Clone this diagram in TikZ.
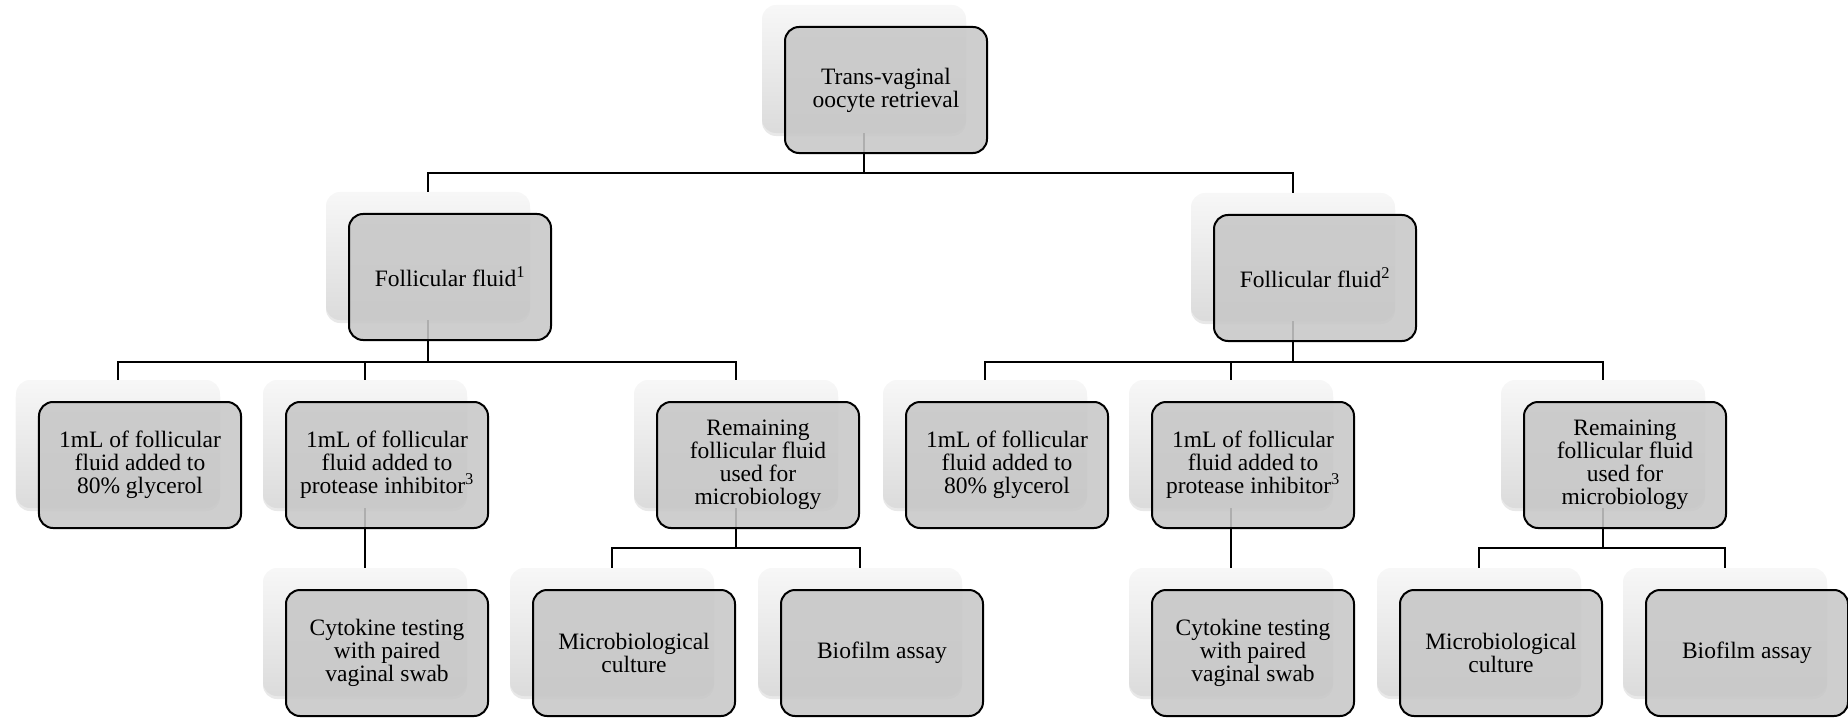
\documentclass[tikz,border=0pt]{standalone}
\usepackage{fontspec}
\setmainfont{Liberation Serif}
\usetikzlibrary{shadows}
\begin{document}
\begin{tikzpicture}[x=1bp,y=1bp,
  card/.style={minimum width=204bp, minimum height=128bp, rounded corners=14bp, inner sep=0pt,
    top color=white!97!black, bottom color=white!86!black,
    drop shadow={shadow xshift=0pt, shadow yshift=-3bp, opacity=0.18}},
  mainbox/.style={minimum width=202bp, minimum height=126bp, rounded corners=14bp, inner sep=2bp,
    draw=black, line width=2bp, fill=white!78!black, fill opacity=0.88, text opacity=1,
    align=center, font=\fontsize{23.5bp}{23bp}\selectfont},
  conn/.style={line width=2bp, draw=black}
]
\useasboundingbox (0,0) rectangle (1848,-718);

% background cards
\node[card] (top) at (864,-69) {};
\node[card] (fa) at (428,-256) {};
\node[card] (fb) at (1293,-257) {};
\node[card] (a1) at (118,-444) {};
\node[card] (a2) at (365,-444) {};
\node[card] (a3) at (736,-444) {};
\node[card] (b1) at (985,-444) {};
\node[card] (b2) at (1231,-444) {};
\node[card] (b3) at (1603,-444) {};
\node[card] (a21) at (365,-632) {};
\node[card] (a31) at (612,-632) {};
\node[card] (a32) at (860,-632) {};
\node[card] (b21) at (1231,-632) {};
\node[card] (b31) at (1479,-632) {};
\node[card] (b32) at (1725,-632) {};

% connectors
\draw[conn] (top.south) -- ++(0,-40) -| (fa.north);
\draw[conn] (top.south) -- ++(0,-40) -| (fb.north);
\foreach \c in {a1,a2,a3} \draw[conn] (fa.south) -- ++(0,-42) -| (\c.north);
\foreach \c in {b1,b2,b3} \draw[conn] (fb.south) -- ++(0,-41) -| (\c.north);
\draw[conn] (a2.south) -- (a21.north);
\draw[conn] (b2.south) -- (b21.north);
\foreach \c in {a31,a32} \draw[conn] (a3.south) -- ++(0,-40) -| (\c.north);
\foreach \c in {b31,b32} \draw[conn] (b3.south) -- ++(0,-40) -| (\c.north);

% main boxes
\node[mainbox] (topm) at ([shift={(22,-21)}]top.center) {Trans-vaginal\\oocyte retrieval};
\node[mainbox] (fam) at ([shift={(22,-21)}]fa.center) {Follicular fluid\textsuperscript{1}};
\node[mainbox] (fbm) at ([shift={(22,-21)}]fb.center) {Follicular fluid\textsuperscript{2}};
\node[mainbox] (a1m) at ([shift={(22,-21)}]a1.center) {1mL of follicular\\fluid added to\\80\% glycerol};
\node[mainbox] (a2m) at ([shift={(22,-21)}]a2.center) {1mL of follicular\\fluid added to\\protease inhibitor\textsuperscript{3}};
\node[mainbox] (a3m) at ([shift={(22,-21)}]a3.center) {Remaining\\follicular fluid\\used for\\microbiology};
\node[mainbox] (b1m) at ([shift={(22,-21)}]b1.center) {1mL of follicular\\fluid added to\\80\% glycerol};
\node[mainbox] (b2m) at ([shift={(22,-21)}]b2.center) {1mL of follicular\\fluid added to\\protease inhibitor\textsuperscript{3}};
\node[mainbox] (b3m) at ([shift={(22,-21)}]b3.center) {Remaining\\follicular fluid\\used for\\microbiology};
\node[mainbox] (a21m) at ([shift={(22,-21)}]a21.center) {Cytokine testing\\with paired\\vaginal swab};
\node[mainbox] (a31m) at ([shift={(22,-21)}]a31.center) {Microbiological\\culture};
\node[mainbox] (a32m) at ([shift={(22,-21)}]a32.center) {Biofilm assay};
\node[mainbox] (b21m) at ([shift={(22,-21)}]b21.center) {Cytokine testing\\with paired\\vaginal swab};
\node[mainbox] (b31m) at ([shift={(22,-21)}]b31.center) {Microbiological\\culture};
\node[mainbox] (b32m) at ([shift={(22,-21)}]b32.center) {Biofilm assay};
\end{tikzpicture}
\end{document}
